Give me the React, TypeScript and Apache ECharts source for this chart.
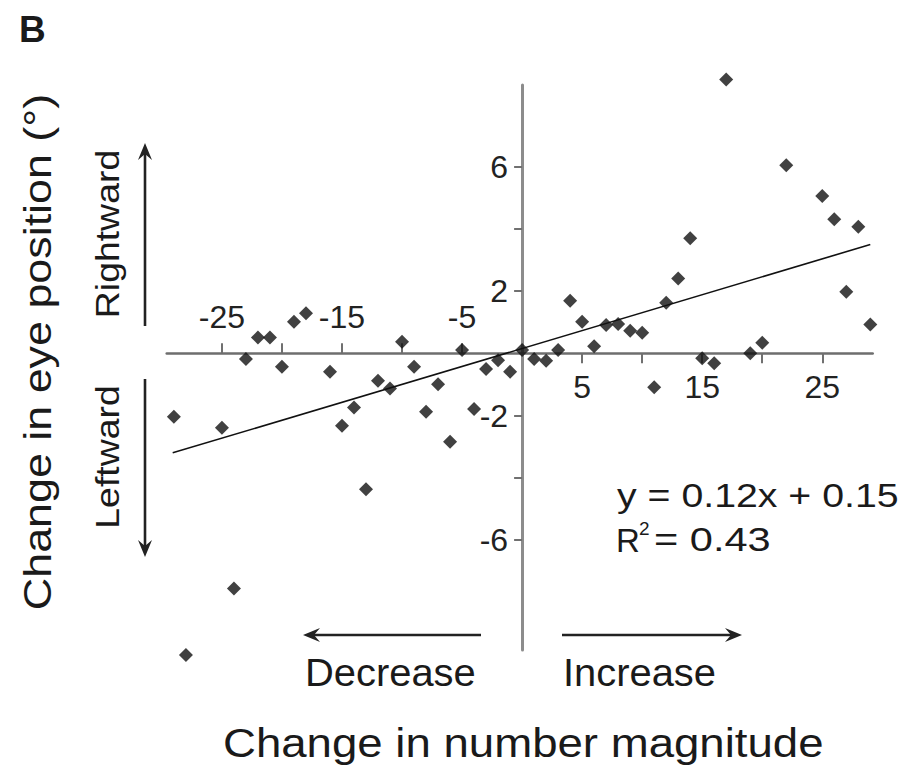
import { useEffect, useRef } from 'react';
import * as echarts from 'echarts';

// Scatter data: change in number magnitude (x) vs change in eye position in degrees (y)
const xValues = [
  -29, -28, -25, -24, -23, -22, -21, -20, -19, -18, -16, -15, -14, -13, -12, -11, -10, -9, -8, -7, -6, -5, -4, -3, -2, -1,
  0, 1, 2, 3, 4, 5, 6, 7, 8, 9, 10, 11, 12, 13, 14, 15, 16, 17, 19, 20, 22, 25, 26, 27, 28, 29,
];
const yValues = [
  -2.04, -9.7, -2.39, -7.56, -0.18, 0.51, 0.51, -0.43, 1.02, 1.29, -0.59, -2.33, -1.74, -4.37, -0.88, -1.13, 0.37, -0.43,
  -1.88, -0.99, -2.84, 0.11, -1.79, -0.5, -0.22, -0.59,
  0.11, -0.18, -0.24, 0.11, 1.69, 1.02, 0.23, 0.91, 0.94, 0.73, 0.66, -1.09, 1.63, 2.41, 3.7, -0.16, -0.32, 8.81,
  0.0, 0.34, 6.05, 5.06, 4.31, 1.98, 4.07, 0.93,
];

// Regression line end points (y = 0.12x + 0.15)
const fitX = [-29.1, 29.0];
const fitY = [-3.2, 3.5];

// Axis ticks and labels
const xNegTicks = [-25, -20, -15, -10, -5];
const xNegLabels = [-25, -15, -5];
const xPosTicks = [5, 10, 15, 20, 25];
const xPosLabels = [5, 15, 25];
const yTicks = [-6, -4, -2, 2, 4, 6];
const yLabels = [-6, -2, 2, 6];

const X_MIN = -29.6;
const X_MAX = 29.2;
const Y_MIN = -9.54;
const Y_MAX = 8.63;

const GRID = { left: 166.7, right: 34.3, top: 85, bottom: 122 };
const W = 907;
const H = 772;

const FONT = '"Liberation Sans", Arial, Helvetica, sans-serif';
const INK = '#1a1a1a';

function arrow(tail: [number, number], tip: [number, number]) {
  const dx = tip[0] - tail[0];
  const dy = tip[1] - tail[1];
  const len = Math.hypot(dx, dy);
  const ux = dx / len;
  const uy = dy / len;
  const px = -uy;
  const py = ux;
  const L = 17;
  const HW = 7;
  const N = 11;
  return [
    {
      type: 'line',
      shape: { x1: tail[0], y1: tail[1], x2: tip[0] - ux * N, y2: tip[1] - uy * N },
      style: { stroke: '#222', lineWidth: 2.6 },
    },
    {
      type: 'polygon',
      shape: {
        points: [
          [tip[0], tip[1]],
          [tip[0] - ux * L + px * HW, tip[1] - uy * L + py * HW],
          [tip[0] - ux * N, tip[1] - uy * N],
          [tip[0] - ux * L - px * HW, tip[1] - uy * L - py * HW],
        ],
      },
      style: { fill: '#222' },
    },
  ];
}

export default function App() {
  const ref = useRef<HTMLDivElement>(null);
  useEffect(() => {
    if (!ref.current) return;
    const chart = echarts.init(ref.current, null, { renderer: 'svg' });
    const gridW = W - GRID.left - GRID.right;
    const gridH = H - GRID.top - GRID.bottom;
    // shift axes so they cross at the origin
    const xAxisOffset = -((0 - Y_MIN) / (Y_MAX - Y_MIN)) * gridH;
    const yAxisOffset = -((0 - X_MIN) / (X_MAX - X_MIN)) * gridW;

    const labelStyle = { fontSize: 32, color: '#222', fontFamily: FONT };
    const tickStyle = { color: '#707070', width: 2 };
    const option: any = {
      animation: false,
      backgroundColor: '#ffffff',
      grid: { ...GRID },
      xAxis: [
        {
          type: 'value',
          min: X_MIN,
          max: X_MAX,
          position: 'bottom',
          offset: xAxisOffset,
          axisLine: { onZero: false, lineStyle: { color: '#6e6e6e', width: 2.5 } },
          axisTick: { show: true, inside: true, length: 10, customValues: xNegTicks, lineStyle: tickStyle },
          axisLabel: { inside: true, margin: 20, customValues: xNegLabels, ...labelStyle },
          splitLine: { show: false },
        },
        {
          type: 'value',
          min: X_MIN,
          max: X_MAX,
          position: 'bottom',
          offset: xAxisOffset,
          axisLine: { onZero: false, show: false },
          axisTick: { show: true, inside: false, length: 10, customValues: xPosTicks, lineStyle: tickStyle },
          axisLabel: { inside: false, margin: 18, customValues: xPosLabels, ...labelStyle },
          splitLine: { show: false },
        },
      ],
      yAxis: {
        type: 'value',
        min: Y_MIN,
        max: Y_MAX,
        position: 'left',
        offset: yAxisOffset,
        axisLine: { onZero: false, lineStyle: { color: '#8c8c8c', width: 3 } },
        axisTick: { show: true, inside: false, length: 8, customValues: yTicks, lineStyle: tickStyle },
        axisLabel: { margin: 14, customValues: yLabels, ...labelStyle },
        splitLine: { show: false },
      },
      series: [
        {
          type: 'line',
          data: fitX.map((x, i) => [x, fitY[i]]),
          symbol: 'none',
          lineStyle: { color: '#111', width: 1.6 },
          z: 3,
        },
        {
          type: 'scatter',
          data: xValues.map((x, i) => [x, yValues[i]]),
          symbol: 'diamond',
          symbolSize: 14,
          itemStyle: { color: '#111' },
          clip: false,
          z: 4,
        },
      ],
      graphic: [
        {
          type: 'text', x: 19, y: 29,
          style: { text: 'B', fontSize: 37, fontWeight: 'bold', fontFamily: FONT, fill: INK, align: 'left', verticalAlign: 'middle' },
        },
        {
          type: 'text', x: 38, y: 352, rotation: Math.PI / 2, scaleX: 1.18,
          style: { text: 'Change in eye position (°)', fontSize: 38, fontFamily: FONT, fill: INK, align: 'center', verticalAlign: 'middle' },
        },
        {
          type: 'text', x: 108, y: 234, rotation: Math.PI / 2, scaleX: 1.1,
          style: { text: 'Rightward', fontSize: 34, fontFamily: FONT, fill: INK, align: 'center', verticalAlign: 'middle' },
        },
        {
          type: 'text', x: 108, y: 457, rotation: Math.PI / 2, scaleX: 1.1,
          style: { text: 'Leftward', fontSize: 34, fontFamily: FONT, fill: INK, align: 'center', verticalAlign: 'middle' },
        },
        ...arrow([145, 326], [145, 143]),
        ...arrow([145, 379], [145, 557]),
        ...arrow([481, 635], [303, 635]),
        ...arrow([562, 635], [742, 635]),
        {
          type: 'text', x: 305, y: 673, scaleX: 1.05,
          style: { text: 'Decrease', fontSize: 38, fontFamily: FONT, fill: INK, align: 'left', verticalAlign: 'middle' },
        },
        {
          type: 'text', x: 563, y: 673, scaleX: 1.05,
          style: { text: 'Increase', fontSize: 38, fontFamily: FONT, fill: INK, align: 'left', verticalAlign: 'middle' },
        },
        {
          type: 'text', x: 223, y: 743, scaleX: 1.14,
          style: { text: 'Change in number magnitude', fontSize: 40, fontFamily: FONT, fill: INK, align: 'left', verticalAlign: 'middle' },
        },
        {
          type: 'text', x: 617, y: 496, scaleX: 1.19,
          style: { text: 'y = 0.12x + 0.15', fontSize: 33, fontFamily: FONT, fill: INK, align: 'left', verticalAlign: 'middle' },
        },
        {
          type: 'text', x: 616, y: 540,
          style: { text: 'R', fontSize: 33, fontFamily: FONT, fill: INK, align: 'left', verticalAlign: 'middle' },
        },
        {
          type: 'text', x: 639, y: 528,
          style: { text: '2', fontSize: 19, fontFamily: FONT, fill: INK, align: 'left', verticalAlign: 'middle' },
        },
        {
          type: 'text', x: 654, y: 540, scaleX: 1.26,
          style: { text: '= 0.43', fontSize: 33, fontFamily: FONT, fill: INK, align: 'left', verticalAlign: 'middle' },
        },
      ],
    };
    chart.setOption(option);
    return () => chart.dispose();
  }, []);
  return (
    <div
      ref={ref}
      style={{ position: 'fixed', left: 0, top: 0, width: W, height: H, background: '#fff' }}
    />
  );
}
